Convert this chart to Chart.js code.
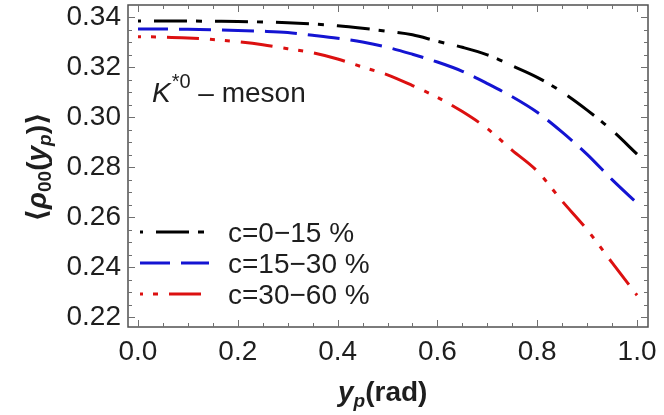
<!DOCTYPE html>
<html>
<head>
<meta charset="utf-8">
<script src="https://cdn.jsdelivr.net/npm/chart.js@4.4.0/dist/chart.umd.min.js"></script>
<style>
html,body{margin:0;padding:0;background:#fff}
#wrap{width:664px;height:415px}
</style>
</head>
<body>
<div id="wrap"><canvas id="chart"></canvas></div>
<script>
// values
const yp=[0,0.05,0.1,0.15,0.2,0.25,0.3,0.35,0.4,0.45,0.5,0.55,0.6,0.65,0.7,0.75,0.8,0.85,0.9,0.95,1.0];
const rho0_15=[0.3385,0.3385,0.3385,0.3384,0.3383,0.3381,0.3378,0.3373,0.3366,0.3356,0.3344,0.3330,0.3304,0.3280,0.3250,0.3206,0.3160,0.3101,0.3029,0.2948,0.2853];
const rho15_30=[0.3353,0.3353,0.3352,0.3350,0.3347,0.3344,0.3339,0.3328,0.3316,0.3301,0.3280,0.3252,0.3221,0.3184,0.3135,0.3082,0.3020,0.2941,0.2852,0.2751,0.2657];
const rho30_60=[0.3322,0.3321,0.3317,0.3311,0.3302,0.3290,0.3274,0.3258,0.3233,0.3201,0.3170,0.3127,0.3080,0.3023,0.2955,0.2868,0.2785,0.2665,0.2551,0.2419,0.2289];
const seriesLabels=['c=0\u221215 %','c=15\u221230 %','c=30\u221260 %'];
const xTicks=[0,0.2,0.4,0.6,0.8,1.0];
const yTicks=[0.22,0.24,0.26,0.28,0.30,0.32,0.34];

const FONT='"Liberation Sans", Arial, sans-serif';
const textCol='#1e1e1e';

function pts(ys){ return yp.map((x,i)=>({x:x,y:ys[i]})); }

// draw a row of text pieces with different fonts / offsets
function runs(ctx,x,y,list){
  list.forEach(r=>{
    ctx.font=r.f;
    ctx.fillText(r.t,x,y+(r.dy||0));
    x+=ctx.measureText(r.t).width+(r.kern||0);
  });
  return x;
}
function runsWidth(ctx,list){
  let w=0;
  list.forEach(r=>{ctx.font=r.f;w+=ctx.measureText(r.t).width+(r.kern||0);});
  return w;
}

const frame={
  id:'frame',
  afterDraw(chart){
    const ctx=chart.ctx, a=chart.chartArea;
    const xs=chart.scales.x, ys=chart.scales.y;
    ctx.save();
    // frame
    ctx.strokeStyle='#505050';
    ctx.lineWidth=1.5;
    ctx.strokeRect(a.left,a.top,a.right-a.left,a.bottom-a.top);
    // inward ticks, major + minor
    ctx.lineWidth=1;
    ctx.strokeStyle='#707070';
    ctx.beginPath();
    for(let i=0;i<=20;i++){
      const v=i*0.05, px=Math.round(xs.getPixelForValue(v))+0.5;
      const L=(i%4===0)?7:4;
      ctx.moveTo(px,a.bottom);ctx.lineTo(px,a.bottom-L);
      ctx.moveTo(px,a.top);ctx.lineTo(px,a.top+L);
    }
    for(let i=0;i<=24;i++){
      const v=0.22+i*0.005, py=Math.round(ys.getPixelForValue(v))+0.5;
      if(py<a.top||py>a.bottom) continue;
      const L=(i%4===0)?7:4;
      ctx.moveTo(a.left,py);ctx.lineTo(a.left+L,py);
      ctx.moveTo(a.right,py);ctx.lineTo(a.right-L,py);
    }
    ctx.stroke();

    ctx.fillStyle=textCol;
    ctx.textBaseline='alphabetic';
    ctx.textAlign='left';

    // x title: y_p(rad)
    runs(ctx,338,401,[
      {t:'y',f:'italic bold 28px '+FONT},
      {t:'p',f:'italic bold 19px '+FONT,dy:6},
      {t:'(rad)',f:'bold 28px '+FONT}
    ]);

    // y title: <rho_00(y_p)>
    const yt=[
      {t:'\u27E8',f:'bold 28px "DejaVu Sans"'},
      {t:'\u03C1',f:'italic bold 28px '+FONT},
      {t:'00',f:'bold 19px '+FONT,dy:5},
      {t:'(',f:'bold 28px '+FONT},
      {t:'y',f:'italic bold 28px '+FONT},
      {t:'p',f:'italic bold 19px '+FONT,dy:5},
      {t:')',f:'bold 28px '+FONT},
      {t:'\u27E9',f:'bold 28px "DejaVu Sans"'}
    ];
    ctx.save();
    ctx.translate(46,167);
    ctx.rotate(-Math.PI/2);
    runs(ctx,-runsWidth(ctx,yt)/2,0,yt);
    ctx.restore();

    // annotation K*0 - meson
    runs(ctx,152,102,[
      {t:'K',f:'italic 28px '+FONT,kern:1},
      {t:'*0',f:'20px '+FONT,dy:-14},
      {t:' \u2013 meson',f:'28px '+FONT}
    ]);

    // legend
    const rows=[232,263,294];
    chart.data.datasets.forEach((ds,i)=>{
      const y=rows[i];
      ctx.save();
      ctx.strokeStyle=ds.borderColor;
      ctx.lineWidth=ds.borderWidth;
      ctx.setLineDash(ds.borderDash);
      ctx.lineDashOffset=ds.borderDashOffset;
      ctx.beginPath();ctx.moveTo(140,y);ctx.lineTo(209,y);ctx.stroke();
      ctx.restore();
      ctx.font='28px '+FONT;
      ctx.fillText(ds.label,228,y+10);
    });
    ctx.restore();
  }
};

new Chart(document.getElementById('chart'),{
  type:'line',
  data:{
    datasets:[
      {label:seriesLabels[0],data:pts(rho0_15),borderColor:'#000000',borderWidth:3,
       borderDash:[33,9,6,13],borderDashOffset:45},
      {label:seriesLabels[1],data:pts(rho15_30),borderColor:'#1414d2',borderWidth:3,
       borderDash:[32,11],borderDashOffset:2},
      {label:seriesLabels[2],data:pts(rho30_60),borderColor:'#dc1010',borderWidth:3,
       borderDash:[32,11,5,10,5,11],borderDashOffset:45}
    ]
  },
  options:{
    responsive:true,
    maintainAspectRatio:false,
    animation:false,
    devicePixelRatio:1,
    layout:{padding:{left:0,right:16,top:5,bottom:0}},
    elements:{point:{radius:0},line:{cubicInterpolationMode:'monotone',fill:false}},
    plugins:{legend:{display:false},tooltip:{enabled:false}},
    scales:{
      x:{
        type:'linear',min:-0.02,max:1.022,
        afterBuildTicks:s=>{s.ticks=xTicks.map(v=>({value:v}));},
        afterFit:s=>{s.height=88;s.paddingLeft=0;s.paddingRight=0;},
        grid:{display:false,drawTicks:false},
        border:{display:false},
        ticks:{font:{family:FONT,size:28},color:textCol,padding:8,maxRotation:0,
               callback:v=>v.toFixed(1)}
      },
      y:{
        type:'linear',min:0.2162,max:0.3449,
        afterBuildTicks:s=>{s.ticks=yTicks.map(v=>({value:v}));},
        afterFit:s=>{s.width=128;s.paddingTop=0;s.paddingBottom=0;},
        grid:{display:false,drawTicks:false},
        border:{display:false},
        ticks:{font:{family:FONT,size:28},color:textCol,padding:7,
               callback:v=>v.toFixed(2)}
      }
    }
  },
  plugins:[frame]
});
</script>
</body>
</html>
